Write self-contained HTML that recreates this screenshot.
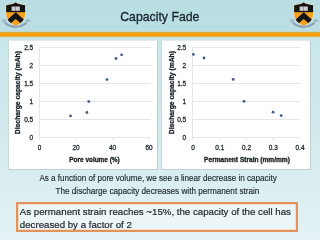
<!DOCTYPE html>
<html><head><meta charset="utf-8">
<style>
body>*{will-change:transform}
html,body{margin:0;padding:0;width:320px;height:240px;overflow:hidden}
body{position:relative;font-family:"Liberation Sans",sans-serif;
background:linear-gradient(180deg,#b9dee1 0px,#badee1 32px,#c9e7ea 37px,#cde7ea 100px,#dbeef1 185px,#e4f2f4 240px);}
.bar{position:absolute;left:0;top:31px;width:320px;height:7px;background:linear-gradient(180deg,#c3d8c6 0,#c3d8c6 1px,#dfa848 1px,#dfa848 2px,#f9a100 2px,#f9a100 5px,#e2ae5c 5px,#e2ae5c 6px,#cbe3dc 6px)}
.box{position:absolute;background:#fff;border:1px solid;border-color:#e2eaec #c2ced1 #c2ced1 #ccd8da}
.ob{position:absolute;left:15.5px;top:202px;width:277.5px;height:26px;border:2px solid #e3925c;background:#ecf5f7;box-shadow:inset 0 0 0 0.8px #f6d6bd}
svg.main{position:absolute;left:0;top:0}
</style></head><body>
<div class="bar"></div>
<svg width="32" height="32" viewBox="0 0 32 32" style="position:absolute;left:0px;top:0">
<defs><clipPath id="shL"><path d="M6.2,5.2 Q12.6,5 15.65,2.6 Q18.7,5 25.1,5.2 L25.1,14.5 Q24.9,22.2 15.65,25.7 Q6.4,22.2 6.2,14.5 Z"/></clipPath></defs>
<path d="M6.2,5.2 Q12.6,5 15.65,2.6 Q18.7,5 25.1,5.2 L25.1,14.5 Q24.9,22.2 15.65,25.7 Q6.4,22.2 6.2,14.5 Z" fill="none" stroke="#eef7f9" stroke-width="1.6" stroke-opacity="0.45"/>
<path d="M6.2,5.2 Q12.6,5 15.65,2.6 Q18.7,5 25.1,5.2 L25.1,14.5 Q24.9,22.2 15.65,25.7 Q6.4,22.2 6.2,14.5 Z" fill="#f6a21e"/>
<g clip-path="url(#shL)">
<rect x="0" y="0" width="32" height="12.2" fill="#141414"/>
<path d="M15.65,12.3 L3,23.6 L3,30 L15.65,18.9 L28.3,30 L28.3,23.6 Z" fill="#141414"/>
</g>
<rect x="11.6" y="6.5" width="8.2" height="4.3" fill="#d2ccd8"/>
<rect x="15.4" y="6.8" width="0.6" height="4" fill="#777"/>
<path d="M4.5,22.6 Q15.6,31 26.7,22.6" fill="none" stroke="#7d8ca3" stroke-width="2.3" stroke-opacity="0.7"/>
<rect x="2.3" y="19.4" width="3.6" height="2.4" fill="#8896a8" opacity="0.6"/>
<rect x="26" y="19.4" width="3.6" height="2.4" fill="#8896a8" opacity="0.6"/>
</svg>
<svg width="32" height="32" viewBox="0 0 32 32" style="position:absolute;left:288px;top:0">
<defs><clipPath id="shR"><path d="M6.2,5.2 Q12.6,5 15.65,2.6 Q18.7,5 25.1,5.2 L25.1,14.5 Q24.9,22.2 15.65,25.7 Q6.4,22.2 6.2,14.5 Z"/></clipPath></defs>
<path d="M6.2,5.2 Q12.6,5 15.65,2.6 Q18.7,5 25.1,5.2 L25.1,14.5 Q24.9,22.2 15.65,25.7 Q6.4,22.2 6.2,14.5 Z" fill="none" stroke="#eef7f9" stroke-width="1.6" stroke-opacity="0.45"/>
<path d="M6.2,5.2 Q12.6,5 15.65,2.6 Q18.7,5 25.1,5.2 L25.1,14.5 Q24.9,22.2 15.65,25.7 Q6.4,22.2 6.2,14.5 Z" fill="#f6a21e"/>
<g clip-path="url(#shR)">
<rect x="0" y="0" width="32" height="12.2" fill="#141414"/>
<path d="M15.65,12.3 L3,23.6 L3,30 L15.65,18.9 L28.3,30 L28.3,23.6 Z" fill="#141414"/>
</g>
<rect x="11.6" y="6.5" width="8.2" height="4.3" fill="#d2ccd8"/>
<rect x="15.4" y="6.8" width="0.6" height="4" fill="#777"/>
<path d="M4.5,22.6 Q15.6,31 26.7,22.6" fill="none" stroke="#7d8ca3" stroke-width="2.3" stroke-opacity="0.7"/>
<rect x="2.3" y="19.4" width="3.6" height="2.4" fill="#8896a8" opacity="0.6"/>
<rect x="26" y="19.4" width="3.6" height="2.4" fill="#8896a8" opacity="0.6"/>
</svg>
<div class="box" style="left:8px;top:40px;width:148px;height:127.5px"></div>
<div class="box" style="left:161px;top:40px;width:147.5px;height:127.5px"></div>
<div class="ob"></div>
<svg class="main" width="320" height="240" viewBox="0 0 320 240" font-family="Liberation Sans">
<text transform="translate(120.2,20.9) scale(0.975,1)" font-size="12.6" font-weight="normal" text-anchor="start" fill="#17232b" stroke="#17232b" stroke-width="0.3">Capacity Fade</text>
<line x1="39.5" y1="47.5" x2="150.5" y2="47.5" stroke="#e6e6e6" stroke-width="1"/>
<line x1="39.5" y1="65.5" x2="150.5" y2="65.5" stroke="#e6e6e6" stroke-width="1"/>
<line x1="39.5" y1="83.5" x2="150.5" y2="83.5" stroke="#e6e6e6" stroke-width="1"/>
<line x1="39.5" y1="101.5" x2="150.5" y2="101.5" stroke="#e6e6e6" stroke-width="1"/>
<line x1="39.5" y1="119.5" x2="150.5" y2="119.5" stroke="#e6e6e6" stroke-width="1"/>
<line x1="39.5" y1="137.5" x2="150.5" y2="137.5" stroke="#e6e6e6" stroke-width="1"/>
<line x1="39.5" y1="47" x2="39.5" y2="139.5" stroke="#e6e6e6" stroke-width="1"/>
<line x1="39.5" y1="137.5" x2="39.5" y2="140" stroke="#e6e6e6" stroke-width="1"/>
<line x1="76" y1="137.5" x2="76" y2="140" stroke="#e6e6e6" stroke-width="1"/>
<line x1="112.5" y1="137.5" x2="112.5" y2="140" stroke="#e6e6e6" stroke-width="1"/>
<line x1="149" y1="137.5" x2="149" y2="140" stroke="#e6e6e6" stroke-width="1"/>
<text transform="translate(33.2,50.0) scale(0.86,1)" font-size="7.5" font-weight="normal" text-anchor="end" fill="#1c2428" stroke="#1c2428" stroke-width="0.3">2.5</text>
<text transform="translate(33.2,68.0) scale(0.86,1)" font-size="7.5" font-weight="normal" text-anchor="end" fill="#1c2428" stroke="#1c2428" stroke-width="0.3">2</text>
<text transform="translate(33.2,86.0) scale(0.86,1)" font-size="7.5" font-weight="normal" text-anchor="end" fill="#1c2428" stroke="#1c2428" stroke-width="0.3">1.5</text>
<text transform="translate(33.2,104.0) scale(0.86,1)" font-size="7.5" font-weight="normal" text-anchor="end" fill="#1c2428" stroke="#1c2428" stroke-width="0.3">1</text>
<text transform="translate(33.2,122.0) scale(0.86,1)" font-size="7.5" font-weight="normal" text-anchor="end" fill="#1c2428" stroke="#1c2428" stroke-width="0.3">0.5</text>
<text transform="translate(33.2,140.0) scale(0.86,1)" font-size="7.5" font-weight="normal" text-anchor="end" fill="#1c2428" stroke="#1c2428" stroke-width="0.3">0</text>
<text transform="translate(39.5,149.9) scale(0.86,1)" font-size="7.5" font-weight="normal" text-anchor="middle" fill="#1c2428" stroke="#1c2428" stroke-width="0.3">0</text>
<text transform="translate(76,149.9) scale(0.86,1)" font-size="7.5" font-weight="normal" text-anchor="middle" fill="#1c2428" stroke="#1c2428" stroke-width="0.3">20</text>
<text transform="translate(112.5,149.9) scale(0.86,1)" font-size="7.5" font-weight="normal" text-anchor="middle" fill="#1c2428" stroke="#1c2428" stroke-width="0.3">40</text>
<text transform="translate(149,149.9) scale(0.86,1)" font-size="7.5" font-weight="normal" text-anchor="middle" fill="#1c2428" stroke="#1c2428" stroke-width="0.3">60</text>
<text transform="translate(94.5,161.6) scale(0.92,1)" font-size="7" font-weight="bold" text-anchor="middle" fill="#1c2428" stroke="#1c2428" stroke-width="0.35">Pore volume (%)</text>
<text transform="translate(20.2,92.6) rotate(-90) scale(0.97,1)" font-size="7" font-weight="bold" text-anchor="middle" fill="#1c2428" stroke="#1c2428" stroke-width="0.3">Discharge capacity (mAh)</text>
<circle cx="70.5" cy="115.9" r="1.4" fill="#415a88"/>
<circle cx="86.9" cy="112.5" r="1.4" fill="#415a88"/>
<circle cx="88.75" cy="101.6" r="1.4" fill="#415a88"/>
<circle cx="107" cy="79.6" r="1.4" fill="#415a88"/>
<circle cx="116" cy="58.5" r="1.4" fill="#415a88"/>
<circle cx="121.6" cy="54.8" r="1.4" fill="#415a88"/>
<line x1="192.5" y1="47.5" x2="299.5" y2="47.5" stroke="#e6e6e6" stroke-width="1"/>
<line x1="192.5" y1="65.5" x2="299.5" y2="65.5" stroke="#e6e6e6" stroke-width="1"/>
<line x1="192.5" y1="83.5" x2="299.5" y2="83.5" stroke="#e6e6e6" stroke-width="1"/>
<line x1="192.5" y1="101.5" x2="299.5" y2="101.5" stroke="#e6e6e6" stroke-width="1"/>
<line x1="192.5" y1="119.5" x2="299.5" y2="119.5" stroke="#e6e6e6" stroke-width="1"/>
<line x1="192.5" y1="137.5" x2="299.5" y2="137.5" stroke="#e6e6e6" stroke-width="1"/>
<line x1="192.5" y1="47" x2="192.5" y2="139.5" stroke="#e6e6e6" stroke-width="1"/>
<line x1="193" y1="137.5" x2="193" y2="140" stroke="#e6e6e6" stroke-width="1"/>
<line x1="219.75" y1="137.5" x2="219.75" y2="140" stroke="#e6e6e6" stroke-width="1"/>
<line x1="246.5" y1="137.5" x2="246.5" y2="140" stroke="#e6e6e6" stroke-width="1"/>
<line x1="273.25" y1="137.5" x2="273.25" y2="140" stroke="#e6e6e6" stroke-width="1"/>
<line x1="300" y1="137.5" x2="300" y2="140" stroke="#e6e6e6" stroke-width="1"/>
<text transform="translate(186.2,50.0) scale(0.86,1)" font-size="7.5" font-weight="normal" text-anchor="end" fill="#1c2428" stroke="#1c2428" stroke-width="0.3">2.5</text>
<text transform="translate(186.2,68.0) scale(0.86,1)" font-size="7.5" font-weight="normal" text-anchor="end" fill="#1c2428" stroke="#1c2428" stroke-width="0.3">2</text>
<text transform="translate(186.2,86.0) scale(0.86,1)" font-size="7.5" font-weight="normal" text-anchor="end" fill="#1c2428" stroke="#1c2428" stroke-width="0.3">1.5</text>
<text transform="translate(186.2,104.0) scale(0.86,1)" font-size="7.5" font-weight="normal" text-anchor="end" fill="#1c2428" stroke="#1c2428" stroke-width="0.3">1</text>
<text transform="translate(186.2,122.0) scale(0.86,1)" font-size="7.5" font-weight="normal" text-anchor="end" fill="#1c2428" stroke="#1c2428" stroke-width="0.3">0.5</text>
<text transform="translate(186.2,140.0) scale(0.86,1)" font-size="7.5" font-weight="normal" text-anchor="end" fill="#1c2428" stroke="#1c2428" stroke-width="0.3">0</text>
<text transform="translate(193,149.9) scale(0.86,1)" font-size="7.5" font-weight="normal" text-anchor="middle" fill="#1c2428" stroke="#1c2428" stroke-width="0.3">0</text>
<text transform="translate(219.75,149.9) scale(0.86,1)" font-size="7.5" font-weight="normal" text-anchor="middle" fill="#1c2428" stroke="#1c2428" stroke-width="0.3">0.1</text>
<text transform="translate(246.5,149.9) scale(0.86,1)" font-size="7.5" font-weight="normal" text-anchor="middle" fill="#1c2428" stroke="#1c2428" stroke-width="0.3">0.2</text>
<text transform="translate(273.25,149.9) scale(0.86,1)" font-size="7.5" font-weight="normal" text-anchor="middle" fill="#1c2428" stroke="#1c2428" stroke-width="0.3">0.3</text>
<text transform="translate(300,149.9) scale(0.86,1)" font-size="7.5" font-weight="normal" text-anchor="middle" fill="#1c2428" stroke="#1c2428" stroke-width="0.3">0.4</text>
<text transform="translate(247,161.6) scale(0.94,1)" font-size="7" font-weight="bold" text-anchor="middle" fill="#1c2428" stroke="#1c2428" stroke-width="0.35">Permanent Strain (mm/mm)</text>
<text transform="translate(173.89999999999998,92.6) rotate(-90) scale(0.97,1)" font-size="7" font-weight="bold" text-anchor="middle" fill="#1c2428" stroke="#1c2428" stroke-width="0.3">Discharge capacity (mAh)</text>
<circle cx="193.4" cy="54.4" r="1.4" fill="#415a88"/>
<circle cx="204" cy="58" r="1.4" fill="#415a88"/>
<circle cx="233.2" cy="79.4" r="1.4" fill="#415a88"/>
<circle cx="244.1" cy="101.3" r="1.4" fill="#415a88"/>
<circle cx="273.1" cy="112.2" r="1.4" fill="#415a88"/>
<circle cx="281.2" cy="115.6" r="1.4" fill="#415a88"/>
<text transform="translate(39.4,181.3) scale(0.9,1)" font-size="9" font-weight="normal" text-anchor="start" fill="#1c2428" stroke="#1c2428" stroke-width="0.15">As a function of pore volume, we see a linear decrease in capacity</text>
<text transform="translate(55.5,194.0) scale(0.907,1)" font-size="9" font-weight="normal" text-anchor="start" fill="#1c2428" stroke="#1c2428" stroke-width="0.15">The discharge capacity decreases with permanent strain</text>
<text transform="translate(19.8,214.75) scale(1.0,1)" font-size="9.7" font-weight="normal" text-anchor="start" fill="#1c2428" stroke="#1c2428" stroke-width="0.2">As permanent strain reaches ~15%, the capacity of the cell has</text>
<text transform="translate(19.8,227.7) scale(1.0,1)" font-size="9.7" font-weight="normal" text-anchor="start" fill="#1c2428" stroke="#1c2428" stroke-width="0.2">decreased by a factor of 2</text>
</svg>
</body></html>
